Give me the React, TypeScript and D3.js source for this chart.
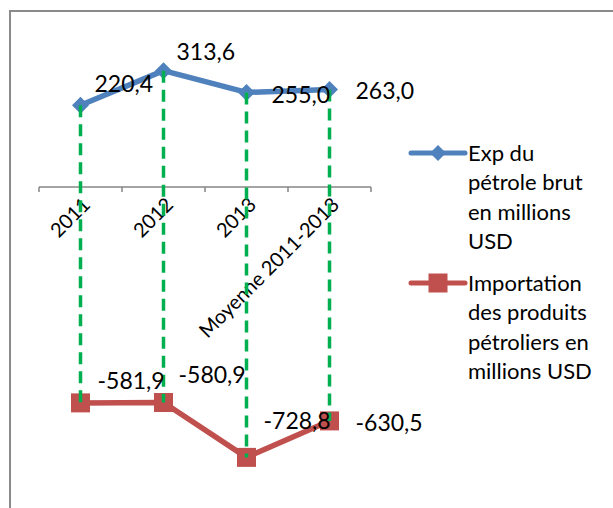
import React from "react";
import * as d3 from "d3";

const categories = ["2011", "2012", "2013", "Moyenne 2011-2013"];
const exportValues = [220.4, 313.6, 255.0, 263.0];
const importValues = [-581.9, -580.9, -728.8, -630.5];
const exportLabels = ["220,4", "313,6", "255,0", "263,0"];
const importLabels = ["-581,9", "-580,9", "-728,8", "-630,5"];
const legendExp = ["Exp du", "pétrole brut", "en millions", "USD"];
const legendImp = ["Importation", "des produits", "pétroliers en", "millions USD"];

// label offsets (layout only)
const expLabelOffsets = [[14, -21], [13, -19], [25, 3], [26, 2]];
const impLabelOffsets = [[17, -22], [15, -28], [17, -36], [26, 2]];

const W = 613;
const H = 508;
const BLUE = "#4F81BD";
const RED = "#C0504D";
const GREEN = "#00B050";
const FONT = "Lato, 'Open Sans', sans-serif";

export default function App() {
  const x = d3.scaleBand<string>().domain(categories).range([39, 371]);
  const y = d3.scaleLinear().domain([-800, 400]).range([483.8, 38.6]);
  const cx = (c: string) => (x(c) as number) + x.bandwidth() / 2;
  const y0 = 187;

  const line = d3
    .line<number>()
    .x((_, i) => cx(categories[i]))
    .y((v) => y(v));

  const fs = 23;
  const lfs = 22;

  return (
    <svg
      width={W}
      height={H}
      style={{ position: "absolute", left: 0, top: 0, display: "block", background: "#fff" }}
      fontFamily={FONT}
    >
      <rect x={0} y={0} width={W} height={H} fill="#fff" />
      {/* chart border */}
      <rect x={10} y={11} width={W + 50} height={H + 50} fill="none" stroke="#8a8a8a" strokeWidth={2} />

      {/* category axis */}
      <line x1={39} x2={371} y1={y0} y2={y0} stroke="#868686" strokeWidth={1.5} />
      {[...categories.map((c) => x(c) as number), 371].map((t, i) => (
        <line key={i} x1={t} x2={t} y1={y0} y2={y0 + 5} stroke="#868686" strokeWidth={1.5} />
      ))}

      {/* category labels */}
      {categories.map((c) => (
        <text
          key={c}
          transform={`translate(${cx(c) + 6},${y0 + 14}) rotate(-45)`}
          textAnchor="end"
          dy="0.35em"
          fontSize={20}
          fill="#000"
        >
          {c}
        </text>
      ))}

      {/* series lines */}
      <path d={line(exportValues) || ""} fill="none" stroke={BLUE} strokeWidth={5.5} strokeLinejoin="round" />
      <path d={line(importValues) || ""} fill="none" stroke={RED} strokeWidth={5.5} strokeLinejoin="round" />

      {/* markers */}
      {exportValues.map((v, i) => {
        const px = cx(categories[i]);
        const py = y(v);
        const r = 8.5;
        return (
          <path
            key={"d" + i}
            d={`M${px},${py - r}L${px + r},${py}L${px},${py + r}L${px - r},${py}Z`}
            fill={BLUE}
          />
        );
      })}
      {importValues.map((v, i) => {
        const px = cx(categories[i]);
        const py = y(v);
        const s = 19;
        return <rect key={"s" + i} x={px - s / 2} y={py - s / 2} width={s} height={s} fill={RED} />;
      })}

      {/* drop lines */}
      {categories.map((c, i) => (
        <line
          key={"g" + i}
          x1={cx(c)}
          x2={cx(c)}
          y1={y(exportValues[i])}
          y2={y(importValues[i])}
          stroke={GREEN}
          strokeWidth={3.5}
          strokeDasharray="12,7"
        />
      ))}

      {/* data labels */}
      {exportValues.map((v, i) => (
        <text
          key={"el" + i}
          x={cx(categories[i]) + expLabelOffsets[i][0]}
          y={y(v) + expLabelOffsets[i][1]}
          dy="0.35em"
          fontSize={fs}
          fill="#000"
        >
          {exportLabels[i]}
        </text>
      ))}
      {importValues.map((v, i) => (
        <text
          key={"il" + i}
          x={cx(categories[i]) + impLabelOffsets[i][0]}
          y={y(v) + impLabelOffsets[i][1]}
          dy="0.35em"
          fontSize={fs}
          fill="#000"
        >
          {importLabels[i]}
        </text>
      ))}

      {/* legend */}
      <g>
        <line x1={411} x2={465} y1={153} y2={153} stroke={BLUE} strokeWidth={5} strokeLinecap="round" />
        <path d="M438,145L446,153L438,161L430,153Z" fill={BLUE} />
        {legendExp.map((t, i) => (
          <text key={"le" + i} x={468} y={153 + i * 29.5} dy="0.35em" fontSize={lfs} fill="#000">
            {t}
          </text>
        ))}
        <line x1={411} x2={465} y1={283} y2={283} stroke={RED} strokeWidth={5} strokeLinecap="round" />
        <rect x={428.5} y={273.5} width={19} height={19} fill={RED} />
        {legendImp.map((t, i) => (
          <text key={"li" + i} x={468} y={283 + i * 29.5} dy="0.35em" fontSize={lfs} fill="#000">
            {t}
          </text>
        ))}
      </g>
    </svg>
  );
}
